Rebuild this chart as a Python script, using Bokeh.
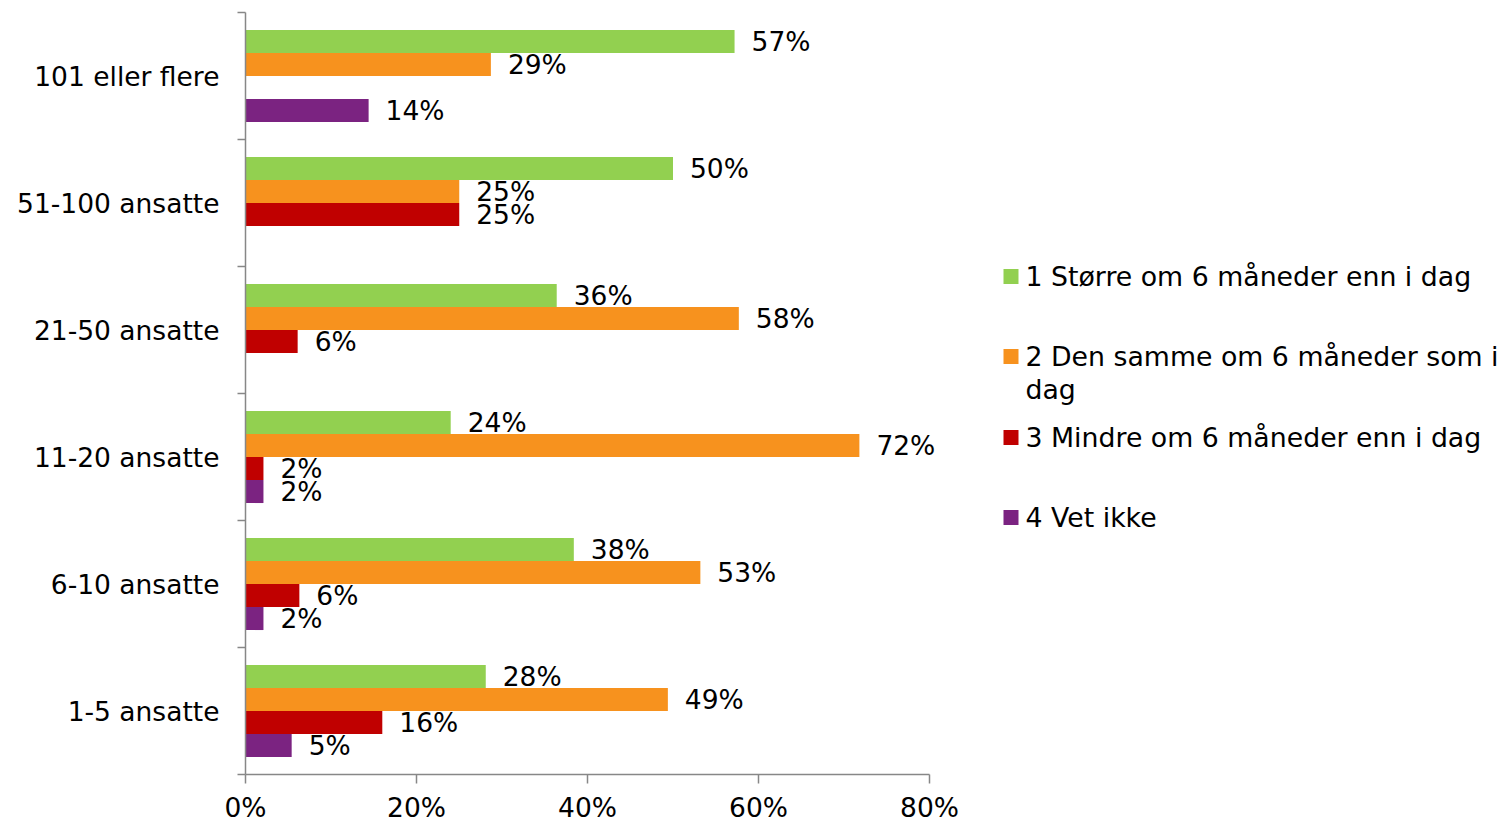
import math
from bokeh.plotting import figure
from bokeh.layouts import row
from bokeh.models import Range1d, FixedTicker, PrintfTickFormatter, ColumnDataSource
from bokeh.core.properties import value
from bokeh.embed import file_html
from bokeh.resources import INLINE

# ---- data ----
categories = ["1-5 ansatte", "6-10 ansatte", "11-20 ansatte", "21-50 ansatte",
              "51-100 ansatte", "101 eller flere"]
series_names = ["1 Større om 6 måneder enn i dag",
                "2 Den samme om 6 måneder som i\ndag",
                "3 Mindre om 6 måneder enn i dag",
                "4 Vet ikke"]
colors = ["#92D050", "#F7921E", "#C00000", "#7B2381"]
storre = [28.1, 38.4, 24.0, 36.4, 50.0, 57.2]
samme = [49.4, 53.2, 71.8, 57.7, 25.0, 28.7]
mindre = [16.0, 6.3, 2.1, 6.1, 25.0, None]
vet_ikke = [5.4, 2.1, 2.1, None, None, 14.4]
series_values = [storre, samme, mindre, vet_ikke]
x_ticks = [0, 20, 40, 60, 80]

FONT = "DejaVu Sans"
FS = "26.5px"
LFS = "26.75px"
AXIS_COLOR = "#878787"

bar_h = 0.18125
offsets = [1.5 * bar_h, 0.5 * bar_h, -0.5 * bar_h, -1.5 * bar_h]

AXIS_PX = 684          # pixel length of the 0-80% axis
FRAME_W = 718          # frame a little wider so the outermost value label is not clipped
x_end = x_ticks[-1] * FRAME_W / AXIS_PX

p = figure(output_backend="svg", toolbar_location=None,
           frame_width=FRAME_W, frame_height=762,
           min_border_left=245, min_border_top=12, min_border_bottom=49, min_border_right=7,
           x_range=Range1d(0, x_end), y_range=Range1d(0, len(categories)))
p.outline_line_color = None
p.xgrid.grid_line_color = None
p.ygrid.grid_line_color = None

for s, vals in enumerate(series_values):
    ys, xs, labels = [], [], []
    for i, v in enumerate(vals):
        if v is None:
            continue
        ys.append(i + 0.5 + offsets[s])
        xs.append(v)
        labels.append(f"{round(v)}%")
    src = ColumnDataSource(dict(y=ys, right=xs, text=labels))
    p.hbar(y="y", left=0, right="right", height=bar_h, source=src,
           fill_color=colors[s], line_color=None)
    p.text(x="right", y="y", text="text", source=src, x_offset=17,
           text_font=value(FONT), text_font_size=FS, text_color="black",
           text_baseline="middle", text_align="left")

# y axis
ya = p.yaxis[0]
ya.ticker = FixedTicker(ticks=[i + 0.5 for i in range(len(categories))],
                        minor_ticks=list(range(len(categories) + 1)))
ya.major_label_overrides = {i + 0.5: c for i, c in enumerate(categories)}
ya.major_tick_line_color = None
ya.major_tick_out = 0
ya.major_tick_in = 0
ya.minor_tick_line_color = AXIS_COLOR
ya.minor_tick_out = 8
ya.minor_tick_in = 0
ya.minor_tick_line_width = 1.5
ya.axis_line_color = AXIS_COLOR
ya.axis_line_width = 1.5
ya.major_label_standoff = 18
ya.major_label_text_font = FONT
ya.major_label_text_font_size = FS
ya.major_label_text_color = "black"

# x axis
xa = p.xaxis[0]
xa.ticker = FixedTicker(ticks=x_ticks, minor_ticks=[])
xa.bounds = (x_ticks[0], x_ticks[-1])
xa.formatter = PrintfTickFormatter(format="%d%%")
xa.major_tick_line_color = AXIS_COLOR
xa.major_tick_line_width = 1.5
xa.major_tick_out = 9
xa.major_tick_in = 0
xa.minor_tick_line_color = None
xa.axis_line_color = AXIS_COLOR
xa.axis_line_width = 1.5
xa.major_label_standoff = 8
xa.major_label_text_font = FONT
xa.major_label_text_font_size = FS
xa.major_label_text_color = "black"

# legend panel (frame aligned with the main plot frame)
LW, LH = 530, 762
lg = figure(output_backend="svg", toolbar_location=None,
            frame_width=LW, frame_height=LH,
            min_border_left=0, min_border_right=0, min_border_top=12, min_border_bottom=49,
            x_range=Range1d(0, LW), y_range=Range1d(LH, 0),
            x_axis_type=None, y_axis_type=None)
lg.outline_line_color = None
lg.xgrid.grid_line_color = None
lg.ygrid.grid_line_color = None
item_y = [264, 344, 425, 505]
line_gap = 33
for s, name in enumerate(series_names):
    lg.scatter(x=[40.5], y=[item_y[s]], marker="square", size=15,
               fill_color=colors[s], line_color=None)
    for k, line in enumerate(name.split("\n")):
        lg.text(x=[55], y=[item_y[s] + k * line_gap], text=[line],
                text_font=value(FONT), text_font_size=LFS, text_color="black",
                text_baseline="middle", text_align="left")

layout = row(p, lg)
open("out.html", "w").write(file_html(layout, INLINE))
